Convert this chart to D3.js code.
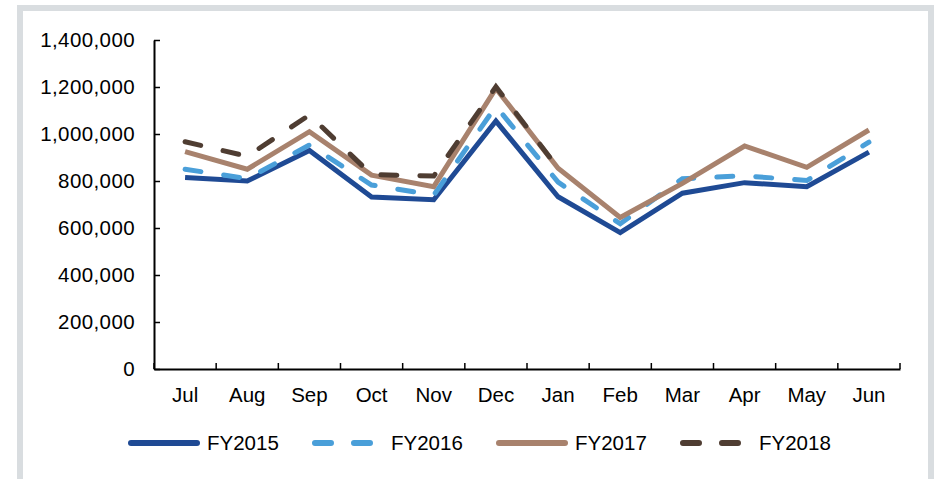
<!DOCTYPE html>
<html>
  <head>
    <script src="https://d3js.org/d3.v7.min.js"></script>
    <style>
      body { margin: 0; background: #fff; }
      text { font-family: "Liberation Sans", Arial, sans-serif; fill: #000; }
    </style>
  </head>
  <body>
    <svg width="936" height="479"></svg>
    <script>
      // data
      var months = ["Jul", "Aug", "Sep", "Oct", "Nov", "Dec", "Jan", "Feb", "Mar", "Apr", "May", "Jun"];
      var fy2015 = [815000, 800000, 930000, 732000, 720000, 1055000, 733000, 580000, 748000, 793000, 776000, 923000];
      var fy2016 = [850000, 810000, 953000, 783000, 740000, 1118000, 795000, 618000, 810000, 822000, 802000, 965000];
      var fy2017 = [925000, 850000, 1010000, 825000, 776000, 1194000, 854000, 645000, 790000, 949000, 858000, 1017000];
      var fy2018 = [967000, 905000, 1081000, 827000, 821000, 1201000, 855000];
      var yTicks = [0, 200000, 400000, 600000, 800000, 1000000, 1200000, 1400000];

      var series = [
        { name: "FY2015", values: fy2015, color: "#1f4a94", dash: null },
        { name: "FY2016", values: fy2016, color: "#4a9fd9", dash: "16,23" },
        { name: "FY2017", values: fy2017, color: "#a8826d", dash: null },
        { name: "FY2018", values: fy2018, color: "#4f3d32", dash: "16,23" }
      ];

      var svg = d3.select("svg");

      // frame
      svg.append("rect")
        .attr("x", 0).attr("y", 0).attr("width", 936).attr("height", 479)
        .style("fill", "#fff");
      svg.append("rect")
        .attr("x", 20).attr("y", 8).attr("width", 911).attr("height", 476)
        .style("fill", "none")
        .style("stroke", "#d9dde0")
        .style("stroke-width", 6);

      var plotLeft = 154, plotRight = 900, plotTop = 40, plotBottom = 369;

      var x = d3.scaleBand().domain(months).range([plotLeft, plotRight]);
      var y = d3.scaleLinear().domain([0, 1400000]).range([plotBottom, plotTop]);

      // y axis (ticks point into the plot)
      var yAxis = svg.append("g")
        .attr("transform", "translate(" + plotLeft + ",0)")
        .call(d3.axisRight(y).tickValues(yTicks).tickSize(6).tickSizeOuter(0).tickFormat(d3.format(",")));
      yAxis.selectAll("text")
        .attr("x", -19)
        .attr("text-anchor", "end")
        .style("font-size", "20.5px")
        .style("letter-spacing", "0.4px");

      // x axis
      var xAxis = svg.append("g")
        .attr("transform", "translate(0," + plotBottom + ")")
        .call(d3.axisTop(x).tickSize(0).tickSizeOuter(0));
      xAxis.selectAll("text")
        .attr("y", 33)
        .attr("dy", 0)
        .style("font-size", "20.5px");

      // x ticks at band edges
      var edges = months.map(function (m) { return x(m); }).concat([plotRight]);
      svg.append("g").selectAll("line")
        .data(edges)
        .enter()
        .append("line")
        .attr("x1", function (d) { return d; })
        .attr("x2", function (d) { return d; })
        .attr("y1", plotBottom)
        .attr("y2", plotBottom - 6)
        .style("stroke", "#000")
        .style("stroke-width", 1.5);

      svg.selectAll(".domain").style("stroke", "#000").style("stroke-width", 2);
      svg.selectAll(".tick line").style("stroke", "#000").style("stroke-width", 1.5);

      var line = d3.line()
        .x(function (d, i) { return x(months[i]) + x.bandwidth() / 2; })
        .y(function (d) { return y(d); });

      series.forEach(function (s) {
        svg.append("path")
          .datum(s.values)
          .attr("d", line)
          .style("fill", "none")
          .style("stroke", s.color)
          .style("stroke-width", 5)
          .style("stroke-linecap", s.dash ? "round" : "butt")
          .style("stroke-linejoin", "miter")
          .style("stroke-dasharray", s.dash);
      });

      // legend
      var legend = svg.append("g").attr("transform", "translate(128,443)");
      var item = legend.selectAll("g")
        .data(series)
        .enter()
        .append("g")
        .attr("transform", function (d, i) { return "translate(" + i * 184 + ",0)"; });
      item.append("line")
        .attr("x1", 3)
        .attr("x2", 69)
        .attr("y1", 0)
        .attr("y2", 0)
        .style("stroke", function (d) { return d.color; })
        .style("stroke-width", 6)
        .style("stroke-linecap", "round")
        .style("stroke-dasharray", function (d) { return d.dash; });
      item.append("text")
        .attr("x", 79)
        .attr("y", 7)
        .style("font-size", "20.5px")
        .text(function (d) { return d.name; });
    </script>
  </body>
</html>
